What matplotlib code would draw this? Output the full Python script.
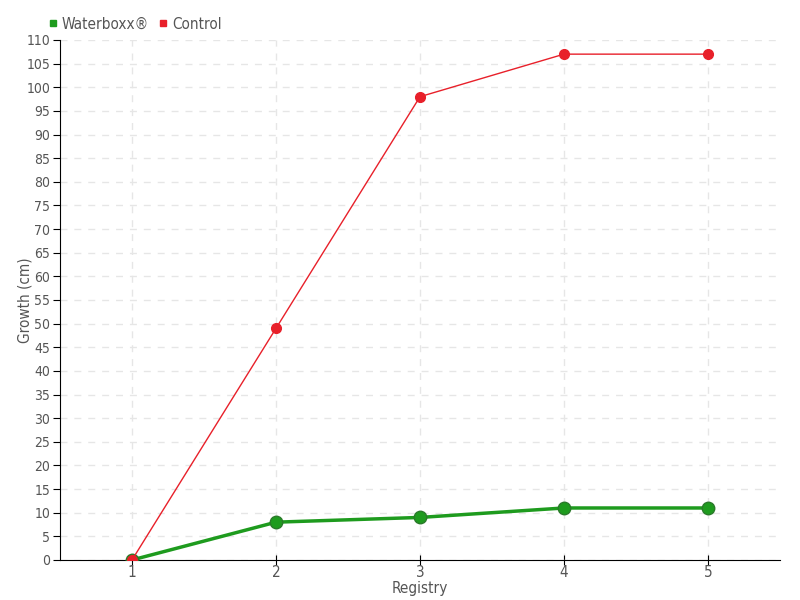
import matplotlib.pyplot as plt
from matplotlib.lines import Line2D

plt.rcParams['font.family'] = ['DejaVu Sans']
plt.rcParams['font.stretch'] = 'condensed'

registry = [1, 2, 3, 4, 5]
waterboxx = [0, 8, 9, 11, 11]
control = [0, 49, 98, 107, 107]

green = "#1e9b1e"
red = "#e8202a"
txt = "#555555"

fig = plt.figure(figsize=(8, 6), dpi=100)
ax = fig.add_axes([0.075, 0.0667, 0.9, 0.8667])

ax.plot(registry, waterboxx, color=green, lw=2.5, marker='o', ms=9,
        markerfacecolor=green, markeredgecolor="#2a7a2a", markeredgewidth=1, zorder=3)
ax.plot(registry, control, color=red, lw=1, marker='o', ms=7,
        markerfacecolor=red, markeredgecolor=red, zorder=4)

ax.set_xlim(0.5, 5.5)
ax.set_ylim(0, 110)
ax.set_xticks(registry)
ax.set_yticks(range(0, 111, 5))
ax.tick_params(axis='both', colors='black', labelcolor=txt, labelsize=10, length=5, pad=2)
ax.tick_params(axis='x', direction='inout', length=7, pad=0, labelsize=11)
ax.grid(True, color="#e6e6e6", linestyle=(0, (5, 5)), lw=1)
ax.set_axisbelow(True)
for s in ['top', 'right']:
    ax.spines[s].set_visible(False)

ax.set_xlabel("Registry", color=txt, fontsize=11)
ax.set_ylabel("Growth (cm)", color=txt, fontsize=11)
ax.yaxis.set_label_coords(-0.038, 0.5)
ax.xaxis.set_label_coords(0.5, -0.04)

handles = [Line2D([], [], color=green, marker='s', ls='', ms=5),
           Line2D([], [], color=red, marker='s', ls='', ms=5)]
fig.legend(handles, ["Waterboxx®", "Control"], loc='upper left',
           bbox_to_anchor=(0.043, 0.995), ncol=2, frameon=False, fontsize=11,
           handlelength=0.6, handletextpad=0.3, columnspacing=0.6, labelcolor=txt)

fig.savefig("out.png")
